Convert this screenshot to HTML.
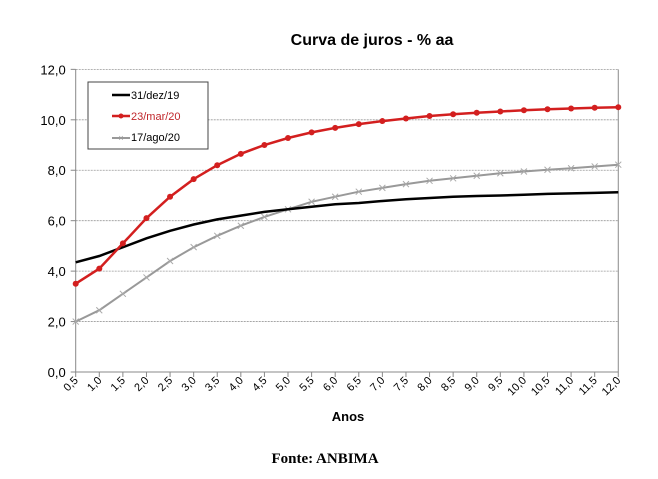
<!DOCTYPE html>
<html><head><meta charset="utf-8"><style>
body{margin:0;background:#fff}
svg{display:block;font-family:"Liberation Sans",Arial,sans-serif}
</style></head><body>
<svg id="s" width="658" height="479" xmlns="http://www.w3.org/2000/svg">
<text x="372" y="45" font-size="16" font-weight="bold" text-anchor="middle">Curva de juros - % aa</text>
<g id="grid"></g>
<rect x="88" y="82" width="120" height="67" fill="#fff" stroke="#444" stroke-width="1"/>
<line x1="112" y1="95" x2="130" y2="95" stroke="#000" stroke-width="2.5"/>
<text x="131" y="99" font-size="11">31/dez/19</text>
<line x1="112" y1="116" x2="130" y2="116" stroke="#d31f1f" stroke-width="2.5"/>
<circle cx="121" cy="116" r="2.5" fill="#d31f1f"/>
<text x="131" y="120" font-size="11" fill="#c0262b">23/mar/20</text>
<line x1="112" y1="138" x2="130" y2="138" stroke="#999" stroke-width="2"/>
<text x="121" y="141" font-size="9" fill="#999" text-anchor="middle">×</text>
<text x="131" y="141" font-size="11">17/ago/20</text>
<text x="348" y="421" font-size="13" font-weight="bold" text-anchor="middle">Anos</text>
<text x="325" y="463" font-size="15" font-weight="bold" text-anchor="middle" font-family="Liberation Serif,serif">Fonte: ANBIMA</text>
</svg>
<script>
const s=document.getElementById('s'),g=document.getElementById('grid');
const X0=75.7,DX=23.59,Y0=372,K=25.22;
const ns='http://www.w3.org/2000/svg';
function el(t,a,p){const e=document.createElementNS(ns,t);for(const k in a)e.setAttribute(k,a[k]);(p||s).appendChild(e);return e;}
const xr=X0+23*DX;
for(let v=0;v<=12;v+=2){const y=Y0-v*K;
 if(v>0)el('line',{x1:X0,y1:y,x2:xr,y2:y,stroke:'#999','stroke-width':0.8,'stroke-dasharray':'2,1'},g);
 el('line',{x1:X0-5,y1:y,x2:X0,y2:y,stroke:'#888'},g);
 const t=el('text',{x:X0-10,y:y+5,'font-size':13,'text-anchor':'end'},g);t.textContent=v.toFixed(1).replace('.',',');}
el('line',{x1:X0,y1:Y0-12*K,x2:X0,y2:Y0,stroke:'#888'},g);
el('line',{x1:xr,y1:Y0-12*K,x2:xr,y2:Y0,stroke:'#888'},g);
el('line',{x1:X0,y1:Y0,x2:xr,y2:Y0,stroke:'#888'},g);
for(let i=0;i<24;i++){const x=X0+i*DX;
 el('line',{x1:x,y1:Y0,x2:x,y2:Y0+5,stroke:'#888'},g);
 const t=el('text',{x:x+3,y:Y0+9,'font-size':11,'text-anchor':'end',transform:`rotate(-45 ${x+3} ${Y0+9})`},g);
 t.textContent=(0.5+i*0.5).toFixed(1).replace('.',',');}
const B=[4.35,4.6,4.95,5.3,5.6,5.85,6.05,6.2,6.35,6.45,6.55,6.65,6.7,6.78,6.85,6.9,6.95,6.98,7.0,7.03,7.06,7.08,7.1,7.13];
const R=[3.5,4.1,5.1,6.1,6.95,7.65,8.2,8.65,9.0,9.28,9.5,9.68,9.83,9.95,10.05,10.15,10.22,10.28,10.33,10.38,10.42,10.45,10.48,10.5];
const G=[2.0,2.45,3.1,3.75,4.4,4.95,5.4,5.8,6.15,6.45,6.75,6.95,7.15,7.3,7.45,7.58,7.68,7.78,7.88,7.95,8.02,8.08,8.15,8.22];
const pts=a=>a.map((v,i)=>(X0+i*DX).toFixed(1)+','+(Y0-v*K).toFixed(1)).join(' ');
el('polyline',{points:pts(G),fill:'none',stroke:'#999','stroke-width':2});
G.forEach((v,i)=>{const x=X0+i*DX,y=Y0-v*K;el('path',{d:`M${x-3} ${y-3}L${x+3} ${y+3}M${x-3} ${y+3}L${x+3} ${y-3}`,stroke:'#aaa','stroke-width':1});});
el('polyline',{points:pts(B),fill:'none',stroke:'#000','stroke-width':2.5});
el('polyline',{points:pts(R),fill:'none',stroke:'#d31f1f','stroke-width':2.5});
R.forEach((v,i)=>el('circle',{cx:X0+i*DX,cy:Y0-v*K,r:3,fill:'#d31f1f'}));
</script>
</body></html>
